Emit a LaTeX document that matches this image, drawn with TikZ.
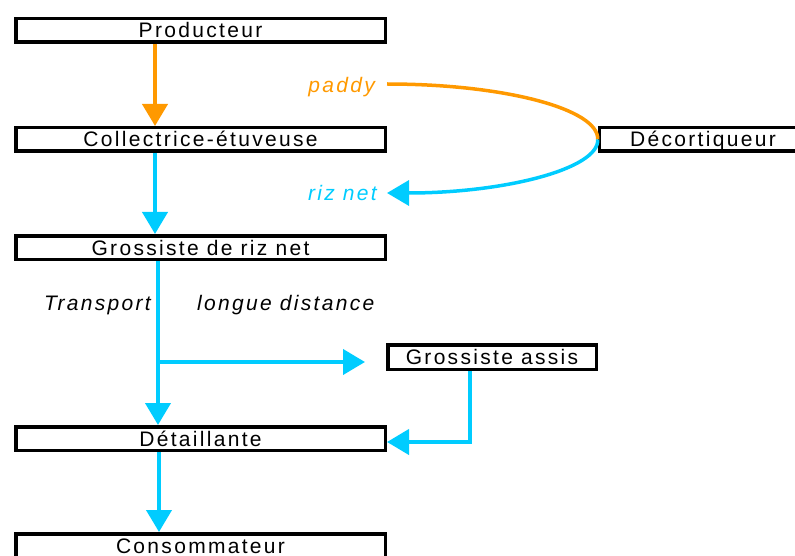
\documentclass[tikz,border=0pt]{standalone}
\usepackage{fontspec}
\setmainfont{Liberation Sans}[LetterSpace=11]
\usetikzlibrary{arrows.meta}
\definecolor{ora}{RGB}{255,153,0}
\definecolor{sky}{RGB}{0,204,255}
\begin{document}
\begin{tikzpicture}[x=1pt,y=-1pt,
  box/.style={draw=black,line width=3.5pt,minimum width=369.5pt,minimum height=23.5pt,inner sep=0pt,text height=15pt,text depth=0pt,font=\fontsize{21}{24}\selectfont},
  lab/.style={inner sep=0pt,font=\fontsize{21}{24}\selectfont\itshape},
  flow/.style={line width=4pt,-{Triangle[length=22pt,width=25pt]}}]
\useasboundingbox (0,0) rectangle (795,556);
\clip (0,0) rectangle (795,556);
\node[box] (prod) at (200.5,30.5) {Producteur};
\node[box] (coll) at (200.5,139.5) {Collectrice-étuveuse};
\node[box,minimum width=207pt] (deco) at (703,139.5) {Décortiqueur};
\node[box] (gros) at (200.5,247.5) {Grossiste de riz net};
\node[box,minimum width=208.5pt,minimum height=24.5pt] (assis) at (492,357) {Grossiste assis};
\node[box] (det) at (200.5,438.5) {Détaillante};
\node[box] (cons) at (200.5,545.5) {Consommateur};
\node[lab,text=ora,anchor=base east] (paddy) at (375,93) {paddy};
\node[lab,text=sky,anchor=base east] (riz) at (377,201) {riz net};
\node[lab,anchor=base east] (tr) at (151,310) {Transport};
\node[lab,anchor=base west] (ld) at (197,310) {longue distance};
\coordinate (pstart) at (387,84);
\coordinate (rend) at (387,193);
\coordinate (br) at (158,362);
\coordinate (brend) at (365,362);
\draw[flow,ora] ([xshift=-45.5pt]prod.south) -- ([xshift=-45.5pt]coll.north);
\draw[flow,sky] ([xshift=-45.5pt]coll.south) -- ([xshift=-45.5pt]gros.north);
\draw[flow,sky] ([xshift=-42.5pt]gros.south) -- ([xshift=-42.5pt]det.north);
\draw[flow,sky] (br) -- (brend);
\draw[flow,sky] ([xshift=-22pt]assis.south) |- ([yshift=-3.5pt]det.east);
\draw[flow,sky] ([xshift=-41.5pt]det.south) -- ([xshift=-41.5pt]cons.north);
\draw[line width=3.5pt,ora] (pstart) .. controls (504,84) and (599,109) .. (deco.west);
\draw[line width=3.5pt,sky,-{Triangle[length=22pt,width=25pt]}] (deco.west) .. controls (599,169) and (504,193) .. (rend);
\end{tikzpicture}
\end{document}
